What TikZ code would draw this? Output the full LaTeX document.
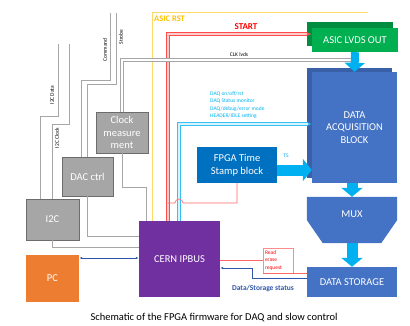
\documentclass[tikz,border=0pt]{standalone}
\usepackage{fontspec}
\setmainfont{Carlito}
\usetikzlibrary{arrows.meta,calc}

\definecolor{asicgreen}{RGB}{0,176,80}
\definecolor{daqblue}{RGB}{68,114,196}
\definecolor{tsblue}{RGB}{0,112,192}
\definecolor{busblue}{RGB}{0,176,240}
\definecolor{ipbuspurple}{RGB}{112,48,160}
\definecolor{pcorange}{RGB}{237,125,49}
\definecolor{ctrlgrey}{RGB}{166,166,166}
\definecolor{rstyellow}{RGB}{255,217,102}
\definecolor{rsttext}{RGB}{255,192,0}
\definecolor{statusblue}{RGB}{47,85,170}

\tikzset{
  block/.style={fill=#1, text=white, align=center, inner sep=0pt,
    font=\fontsize{10.5}{12.5}\selectfont},
  ctrl/.style={block=ctrlgrey, draw=gray!85!black, line width=0.5pt},
  wire/.style={draw=gray!70, line width=0.6pt},
  tiny/.style={inner sep=0pt, font=\fontsize{5.5}{7.5}\selectfont},
  rstline/.style={draw=rstyellow, line width=0.8pt},
  startline/.style={draw=red!70, line width=0.7pt, double=red!20, double distance=1.8pt},
  clkline/.style={draw=gray!70, line width=0.7pt, double=white, double distance=1.8pt},
  daqline/.style={draw=busblue!80, line width=0.7pt, double=busblue!15, double distance=1.8pt},
  fatarrow/.style 2 args={draw=busblue, line width=#1, -{Triangle[width=#2,length=9pt]}}
}

\begin{document}
\begin{tikzpicture}[x=1pt,y=-1pt]
  \useasboundingbox (0,0) rectangle (410,325);
  \coordinate (rstx) at (152,0);
  \coordinate (startx) at (168,0);
  \coordinate (busx) at (179,0);
  \coordinate (clkx) at (146,0);

  %Blocks
  \fill[asicgreen!80!black] (307,22) rectangle (393,46);
  \node[block=asicgreen, minimum width=86pt, minimum height=24pt] (asicout) at (355,40) {ASIC LVDS OUT};
  \fill[daqblue!85!black] (307,68) rectangle (392,178);
  \node[block=daqblue, minimum width=85pt, minimum height=111pt] (daq) at (354.5,127.5) {DATA\\ACQUISITION\\BLOCK};
  \node[block=tsblue, minimum width=80pt, minimum height=36pt] (ts) at (237,165) {FPGA Time\\Stamp block};
  \node[minimum width=90pt, minimum height=46pt, inner sep=0pt] (mux) at (352,220) {};
  \fill[daqblue] (mux.north west) -- (mux.north east) -- (mux.east) -- ([xshift=-16pt]mux.south east)
    -- ([xshift=16pt]mux.south west) -- (mux.west) -- cycle;
  \node[block=daqblue, fill=none] (muxtext) at (352,214) {MUX};
  \node[block=daqblue, minimum width=90pt, minimum height=30pt] (storage) at (352,282) {DATA STORAGE};
  \node[block=ipbuspurple, minimum width=81pt, minimum height=76pt] (ipbus) at (179.5,259) {CERN IPBUS};
  \node[block=pcorange, minimum width=53pt, minimum height=47pt] (pc) at (52.5,278.5) {PC};
  \node[ctrl, minimum width=53pt, minimum height=41pt] (itwoc) at (52.5,219.5) {I2C};
  \node[ctrl, minimum width=51pt, minimum height=39pt] (dac) at (87.5,176.5) {DAC ctrl};
  \node[ctrl, minimum width=52pt, minimum height=41pt] (clkmeas) at (122,132.5) {Clock\\measure\\ment};
  \node[tiny, draw=red!45, text=red, align=left, text width=26pt, minimum width=30pt, minimum height=25pt] (erase) at (278,260.5) {Read\\erase\\request};

  %Reset and start
  \draw[rstline] (rstx |- ipbus.north) |- (368,12);
  \node[anchor=west, inner sep=0pt, text=rsttext, font=\fontsize{8.5}{10}\bfseries] (rstlabel) at (154,19) {ASIC RST};
  \draw[startline, -{Latex[length=5pt]}] (startx |- ipbus.north) |- ([yshift=6pt]asicout.west);
  \node[inner sep=0pt, text=red, font=\fontsize{9}{10}\bfseries] (startlabel) at (246,27) {START};

  %Clock
  \draw[clkline] (clkmeas.north) |- (asicout.south |- 0,60);
  \node[tiny] (clklabel) at (239,55) {CLK lvds};
  \draw[wire] (clkmeas.south) |- (clkx |- 0,187) -- (clkx |- ipbus.north);

  %DAQ control bus
  \draw[daqline, -{Latex[length=4pt]}] (busx |- ipbus.north) |- (daq.west |- 0,124);
  \node[tiny, text=busblue, anchor=north west, align=left] (daqlabel) at (210,91)
    {DAQ on/off/rst\\DAQ Status monitor\\DAQ/debug/error mode\\HEADER/IDLE setting};

  %Data path
  \draw[fatarrow={8pt}{20pt}] (asicout.south) -- (daq.north);
  \draw[fatarrow={11pt}{22pt}] ($(ts.east)+(0,5)$) -- ($(daq.west |- ts.east)+(0,5)$);
  \node[tiny, text=busblue] (tslabel) at (286,156) {TS};
  \draw[fatarrow={11pt}{21pt}] (mux.north |- daq.south) -- (mux.north);
  \draw[fatarrow={11pt}{21pt}] (mux.south) -- (storage.north);

  %Time stamp reset, hopping over the DAQ bus
  \draw[red!60, line width=0.6pt] (ts.south) |- ($(busx |- 0,203)+(4,0)$)
    arc[start angle=0, end angle=-180, radius=4] -- (startx |- 0,203);

  %Slow control
  \draw[wire] (dac.south) |- (ipbus.west |- 0,236);
  \draw[wire] (itwoc.south) |- (ipbus.west |- 0,247);
  \draw[wire] (itwoc.north -| 40,0) |- (58,116) -- (58,44);
  \draw[wire] (itwoc.north) |- (69,124) -- (69,44);
  \draw[wire] (dac.north -| 81,0) |- (110,80) -- (110,13);
  \draw[wire] (dac.north) |- (116,84) -- (116,13);
  \node[tiny, rotate=90] (datalabel) at (52,95) {I2C Data};
  \node[tiny, rotate=90] (clocklabel) at (57,138) {I2C Clock};
  \node[tiny, rotate=90] (cmdlabel) at (105,50) {Command};
  \node[tiny, rotate=90] (strobelabel) at (121,37) {Strobe};

  %IPbus links
  \draw[statusblue, line width=0.6pt, {Latex[length=3pt]}-{Latex[length=3pt]}] (pc.east |- 0,258) -- (ipbus.west |- 0,258);
  \draw[red!60, line width=0.6pt] (ipbus.east |- erase.west) -- (erase.west);
  \draw[red!60, line width=0.6pt] (erase.south west) -- (storage.west |- erase.south);
  \draw[statusblue, line width=0.6pt, -{Latex[length=3pt]}] (storage.west |- 0,278) -| (252,268) -- (ipbus.east |- 0,268);
  \node[text=statusblue, inner sep=0pt, font=\fontsize{7.5}{9}\bfseries] (statuslabel) at (263,288) {Data/Storage status};

  %Caption
  \node[inner sep=0pt, font=\fontsize{10.5}{12}\selectfont] (caption) at (214,318) {Schematic of the FPGA firmware for DAQ and slow control};
\end{tikzpicture}
\end{document}
